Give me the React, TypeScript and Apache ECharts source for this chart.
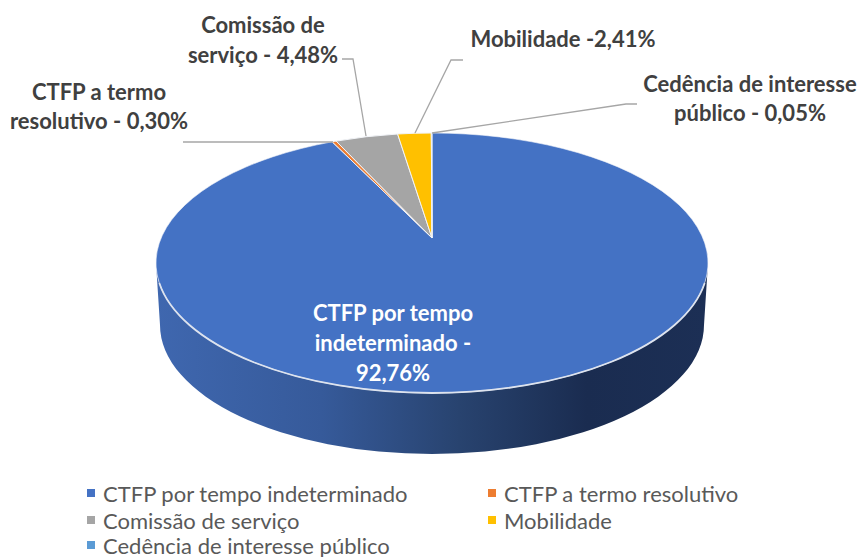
import React, { useEffect, useRef } from "react";
import * as echarts from "echarts";

const categories = [
  "CTFP por tempo indeterminado",
  "CTFP a termo resolutivo",
  "Comissão de serviço",
  "Mobilidade",
  "Cedência de interesse público",
];
const values = [92.76, 0.3, 4.48, 2.41, 0.05];
const colors = ["#4472C4", "#ED7D31", "#A5A5A5", "#FFC000", "#5B9BD5"];
const labelLines = [
  ["CTFP por tempo", "indeterminado -", "92,76%"],
  ["CTFP a termo", "resolutivo - 0,30%"],
  ["Comissão de", "serviço - 4,48%"],
  ["Mobilidade -2,41%"],
  ["Cedência de interesse", "público - 0,05%"],
];

// Layout of the tilted disc
const CX = 432, CY = 263, RX = 276, RY = 130;
const AX = 432, AY = 238; // apex of the slices
const BCY = 325, BRX = 272, BRY = 129;
const total = values.reduce((a, b) => a + b, 0);

function rimPoint(frac: number) {
  const th = frac * 2 * Math.PI;
  const dx = Math.sin(th) * RX;
  const dy = -Math.cos(th) * RY;
  const oy = AY - CY;
  const a = (dx * dx) / (RX * RX) + (dy * dy) / (RY * RY);
  const b = (2 * oy * dy) / (RY * RY);
  const c = (oy * oy) / (RY * RY) - 1;
  const s = (-b + Math.sqrt(b * b - 4 * a * c)) / (2 * a);
  return [AX + dx * s, AY + dy * s];
}

const labelLayout = [
  { x: 393, y: [312, 342, 372], align: "center", color: "#FFFFFF" },
  { x: 99, y: [91, 120], align: "center", color: "#404040" },
  { x: 263, y: [24, 54], align: "center", color: "#404040" },
  { x: 563, y: [38], align: "center", color: "#404040" },
  { x: 750, y: [83, 112], align: "center", color: "#404040" },
];
const leaders: (number[][] | null)[] = [
  null,
  [[183, 142], [333, 142]],
  [[342, 59], [353, 59], [366, 136]],
  [[463, 60], [451, 60], [415, 133]],
  [[432, 133], [626, 104], [637, 104]],
];

function renderSlice(idx: number) {
  return (_params: any, api: any) => {
    const value = api.value(0);
    let before = 0;
    for (let i = 0; i < idx; i++) before += values[i];
    const f0 = before / total;
    const f1 = (before + value) / total;
    const p0 = rimPoint(f0);
    const p1 = rimPoint(f1);
    const large = f1 - f0 > 0.5 ? 1 : 0;
    const d = `M${AX} ${AY}L${p0[0]} ${p0[1]}A${RX} ${RY} 0 ${large} 1 ${p1[0]} ${p1[1]}Z`;
    const children: any[] = [];
    if (idx === 0) {
      children.push({
        type: "path",
        shape: {
          pathData:
            `M${CX - RX} ${CY}A${RX} ${RY} 0 0 0 ${CX + RX} ${CY}` +
            `L${CX + BRX} ${BCY}A${BRX} ${BRY} 0 0 1 ${CX - BRX} ${BCY}Z`,
        },
        style: {
          fill: new echarts.graphic.LinearGradient(0, 0, 1, 0, [
            { offset: 0, color: "#3F67AF" },
            { offset: 0.3, color: "#365A9A" },
            { offset: 0.55, color: "#28436F" },
            { offset: 0.78, color: "#1A2C50" },
            { offset: 1, color: "#1C2F55" },
          ]),
          stroke: "none",
        },
      });
    }
    children.push({
      type: "path",
      shape: { pathData: d },
      style: { fill: colors[idx], stroke: "#F2F4F8", lineWidth: idx === 0 ? 0.6 : 1 },
    });
    if (idx === 0) {
      const ly = 283;
      const lx = RX * Math.sqrt(1 - ((ly - CY) / RY) ** 2);
      children.push({
        type: "path",
        shape: { pathData: `M${CX - lx} ${ly}A${RX} ${RY} 0 0 0 ${CX + lx} ${ly}` },
        style: { fill: "none", stroke: "#DDE3EE", lineWidth: 1.8 },
      });
    }
    const leader = leaders[idx];
    if (leader) {
      children.push({
        type: "polyline",
        shape: { points: leader },
        style: { fill: "none", stroke: "#A6A6A6", lineWidth: 1.3 },
      });
    }
    const lay = labelLayout[idx];
    labelLines[idx].forEach((t, i) => {
      children.push({
        type: "text",
        style: {
          text: t,
          x: lay.x,
          y: lay.y[i],
          fill: lay.color,
          align: lay.align,
          verticalAlign: "middle",
          font: "bold 22px Lato",
        },
      });
    });
    return { type: "group", children };
  };
}

export default function App() {
  const ref = useRef<HTMLDivElement>(null);
  useEffect(() => {
    const chart = echarts.init(ref.current!, undefined, { renderer: "svg" });
    const legendCommon = {
      orient: "vertical" as const,
      icon: "rect",
      itemWidth: 8,
      itemHeight: 8,
      itemGap: 5,
      padding: 0,
      selectedMode: false,
      textStyle: { fontFamily: "Lato", fontSize: 22, color: "#595959", padding: [0, 0, 0, 3] },
    };
    chart.setOption({
      animation: false,
      backgroundColor: "#FFFFFF",
      legend: [
        { ...legendCommon, left: 87, top: 482, data: [categories[0], categories[2]] },
        { ...legendCommon, left: 87, top: 534, data: [categories[4]] },
        { ...legendCommon, left: 488, top: 482, data: [categories[1], categories[3]] },
      ],
      series: categories.map((name, idx) => ({
        type: "custom",
        name,
        coordinateSystem: "none",
        itemStyle: { color: colors[idx] },
        silent: true,
        data: [[values[idx]]],
        renderItem: renderSlice(idx),
      })),
    });
    return () => chart.dispose();
  }, []);
  return <div ref={ref} style={{ width: 862, height: 557, position: "absolute", left: 0, top: 0 }} />;
}
